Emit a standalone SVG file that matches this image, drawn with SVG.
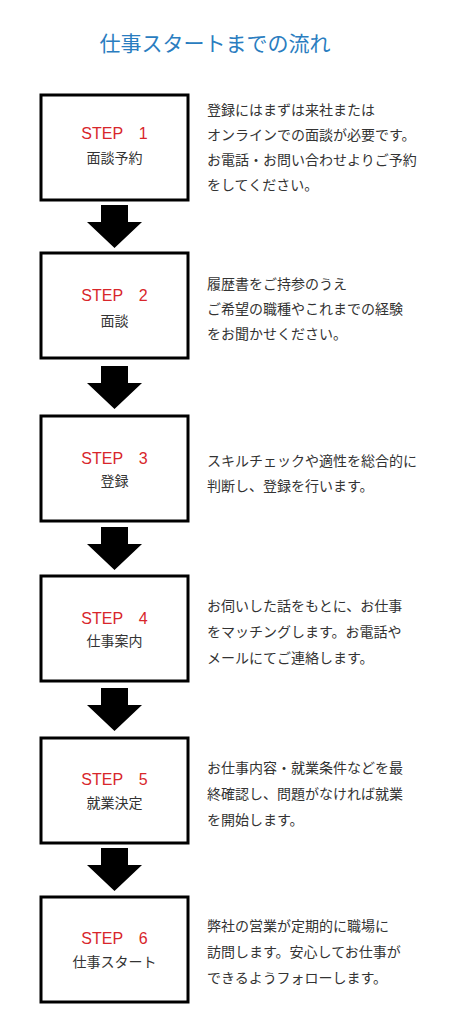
<svg xmlns="http://www.w3.org/2000/svg" width="464" height="1024" viewBox="0 0 464 1024">
<defs>
<style>
.box{fill:#fff;stroke:#000;stroke-width:3}
.arrow{fill:#000}
.title{font-family:"Noto Sans CJK JP","Noto Sans CJK SC",sans-serif;font-size:21px;fill:#2a7dc0;text-anchor:middle}
.step{font-family:"Liberation Sans","Noto Sans CJK JP",sans-serif;font-size:16px;fill:#d8262b;text-anchor:middle}
.sub{font-family:"Noto Sans CJK JP",sans-serif;font-size:14px;fill:#333;text-anchor:middle}
.desc{font-family:"Noto Sans CJK JP",sans-serif;font-size:14px;fill:#333}
</style>
</defs>
<rect width="464" height="1024" fill="#fff"/>
<text class="title" x="215" y="51">仕事スタートまでの流れ</text>

<g id="connectors">
<polygon class="arrow" points="101,205 128,205 128,222 142,222 114.5,248 87,222 101,222"/>
<polygon class="arrow" points="101,366 128,366 128,383 142,383 114.5,409 87,383 101,383"/>
<polygon class="arrow" points="101,527 128,527 128,544 142,544 114.5,570 87,544 101,544"/>
<polygon class="arrow" points="101,688 128,688 128,705 142,705 114.5,731 87,705 101,705"/>
<polygon class="arrow" points="101,848 128,848 128,865 142,865 114.5,891 87,865 101,865"/>
</g>

<g id="step1">
<rect class="box" x="41" y="95" width="147" height="105"/>
<text class="step" x="114.5" y="139">STEP　1</text>
<text class="sub" x="114.5" y="163">面談予約</text>
<text class="desc" x="207" y="115">登録にはまずは来社または</text>
<text class="desc" x="207" y="140">オンラインでの面談が必要です。</text>
<text class="desc" x="207" y="165">お電話・お問い合わせよりご予約</text>
<text class="desc" x="207" y="190">をしてください。</text>
</g>

<g id="step2">
<rect class="box" x="41" y="253" width="147" height="105"/>
<text class="step" x="114.5" y="301">STEP　2</text>
<text class="sub" x="114.5" y="326">面談</text>
<text class="desc" x="207" y="289">履歴書をご持参のうえ</text>
<text class="desc" x="207" y="314">ご希望の職種やこれまでの経験</text>
<text class="desc" x="207" y="339">をお聞かせください。</text>
</g>

<g id="step3">
<rect class="box" x="41" y="416" width="147" height="105"/>
<text class="step" x="114.5" y="464">STEP　3</text>
<text class="sub" x="114.5" y="486">登録</text>
<text class="desc" x="207" y="466">スキルチェックや適性を総合的に</text>
<text class="desc" x="207" y="491">判断し、登録を行います。</text>
</g>

<g id="step4">
<rect class="box" x="41" y="576" width="147" height="105"/>
<text class="step" x="114.5" y="624">STEP　4</text>
<text class="sub" x="114.5" y="646">仕事案内</text>
<text class="desc" x="207" y="611">お伺いした話をもとに、お仕事</text>
<text class="desc" x="207" y="637">をマッチングします。お電話や</text>
<text class="desc" x="207" y="663">メールにてご連絡します。</text>
</g>

<g id="step5">
<rect class="box" x="41" y="738" width="147" height="105"/>
<text class="step" x="114.5" y="785">STEP　5</text>
<text class="sub" x="114.5" y="808">就業決定</text>
<text class="desc" x="207" y="773">お仕事内容・就業条件などを最</text>
<text class="desc" x="207" y="799">終確認し、問題がなければ就業</text>
<text class="desc" x="207" y="825">を開始します。</text>
</g>

<g id="step6">
<rect class="box" x="41" y="897" width="147" height="105"/>
<text class="step" x="114.5" y="944">STEP　6</text>
<text class="sub" x="114.5" y="967">仕事スタート</text>
<text class="desc" x="207" y="931">弊社の営業が定期的に職場に</text>
<text class="desc" x="207" y="957">訪問します。安心してお仕事が</text>
<text class="desc" x="207" y="983">できるようフォローします。</text>
</g>
</svg>
